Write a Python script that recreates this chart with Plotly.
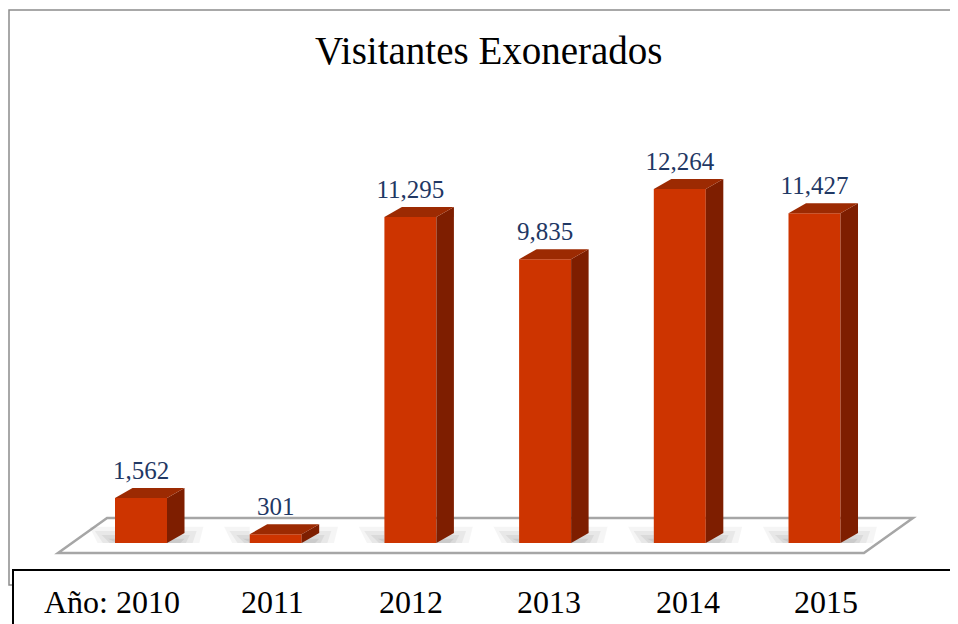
import plotly.graph_objects as go

# ---- data ----
years = ["2010", "2011", "2012", "2013", "2014", "2015"]
year_labels = ["Año: 2010", "2011", "2012", "2013", "2014", "2015"]
visitors = [1562, 301, 11295, 9835, 12264, 11427]
title_text = "Visitantes Exonerados"

# ---- style ----
FRONT = "#CD3400"
SIDE = "#7E1E00"
TOP = "#9C2A02"
LABEL = "#1F3864"
SERIF = "Liberation Serif, Times New Roman, serif"

FIG_W, FIG_H = 950, 616   # page body adds an 8px margin
W_BAR = 0.386      # bar width (category units)
DX = 0.13          # 3D depth in x (category units)
DY = 346           # 3D depth in y (value units)
PX_PER_CAT = 134.7
PX_PER_VAL = 0.02886

n = len(years)
xs = list(range(n))

fig = go.Figure()

# soft shadows on the floor beside each bar base (left and right pieces)
for i, v in zip(xs, visitors):
    xl = i - W_BAR / 2
    xr = i + W_BAR / 2
    for (l, r, h, a) in [(0.19, 0.24, 560, 0.07), (0.15, 0.19, 420, 0.09),
                         (0.10, 0.14, 280, 0.11), (0.05, 0.10, 150, 0.13)]:
        fig.add_trace(go.Scatter(
            x=[xl - l + 0.06, xl, xl, xl - l, xl - l + 0.06],
            y=[0, 0, h, h, 0],
            fill="toself", mode="lines", line=dict(width=0),
            fillcolor=f"rgba(110,110,110,{a})", hoverinfo="skip", showlegend=False))
        fig.add_trace(go.Scatter(
            x=[xr, xr + r, xr + r + 0.03, xr, xr],
            y=[0, 0, h, h, 0],
            fill="toself", mode="lines", line=dict(width=0),
            fillcolor=f"rgba(110,110,110,{a})", hoverinfo="skip", showlegend=False))

# front faces
fig.add_trace(go.Bar(x=xs, y=visitors, width=W_BAR, marker=dict(color=FRONT, line=dict(width=0)),
                     hoverinfo="skip", showlegend=False))

# side and top faces
for i, v in zip(xs, visitors):
    xr = i + W_BAR / 2
    xl = i - W_BAR / 2
    fig.add_trace(go.Scatter(
        x=[xr, xr + DX, xr + DX, xr, xr], y=[0, DY, v + DY, v, 0],
        fill="toself", mode="lines", line=dict(width=0), fillcolor=SIDE,
        hoverinfo="skip", showlegend=False))
    fig.add_trace(go.Scatter(
        x=[xl, xr, xr + DX, xl + DX, xl], y=[v, v, v + DY, v + DY, v],
        fill="toself", mode="lines", line=dict(width=0), fillcolor=TOP,
        hoverinfo="skip", showlegend=False))

# value labels
fig.add_trace(go.Scatter(
    x=xs, y=[v + DY + 100 for v in visitors], mode="text",
    text=[f"{v:,}" for v in visitors], textposition="top center",
    textfont=dict(family=SERIF, size=25, color=LABEL),
    hoverinfo="skip", showlegend=False))

# floor parallelogram
fl, fr = -0.616, (n - 1) + 0.367
bdx = 0.364
fy, by = -346, 866
fig.add_shape(type="path", xref="x", yref="y",
              path=f"M {fl},{fy} L {fr},{fy} L {fr + bdx},{by} L {fl + bdx},{by} Z",
              line=dict(color="#A6A6A6", width=2.5), fillcolor="white", layer="below")

# outer chart border (gray)
fig.add_shape(type="rect", xref="paper", yref="paper",
              x0=1 / FIG_W, x1=1.01, y0=1 - 577 / FIG_H, y1=1 - 2 / FIG_H,
              line=dict(color="#8C8C8C", width=1.5), fillcolor="rgba(0,0,0,0)", layer="above")

# bottom table row
fig.add_shape(type="rect", xref="paper", yref="paper",
              x0=5 / FIG_W, x1=1.02, y0=-0.05, y1=1 - 562 / FIG_H,
              line=dict(color="black", width=2), fillcolor="white", layer="above")

# year labels (table row)
for i, t in enumerate(year_labels):
    fig.add_annotation(
        x=i, xref="x2", y=1 - 594 / FIG_H, yref="paper", text=t, showarrow=False,
        xanchor="right" if i == 0 else "center", yanchor="middle",
        xshift=48 if i == 0 else 0,
        font=dict(family=SERIF, size=32, color="black"))

# title
fig.add_annotation(x=481 / FIG_W, y=1 - 43 / FIG_H, xref="paper", yref="paper",
                   text=title_text, showarrow=False, xanchor="center", yanchor="middle",
                   font=dict(family=SERIF, size=39, color="black"))

x0 = -133 / PX_PER_CAT
lab_sp = 138.5
x20 = 1 - 264 / lab_sp

fig.update_layout(
    width=FIG_W, height=FIG_H, autosize=False,
    margin=dict(l=0, r=0, t=0, b=0),
    paper_bgcolor="white", plot_bgcolor="white",
    xaxis=dict(range=[x0, x0 + FIG_W / PX_PER_CAT], visible=False, fixedrange=True),
    xaxis2=dict(range=[x20, x20 + FIG_W / lab_sp], visible=False, overlaying="x"),
    yaxis=dict(range=[-(FIG_H - 535) / PX_PER_VAL, 535 / PX_PER_VAL], visible=False),
    showlegend=False,
)

fig.write_html("out.html")
